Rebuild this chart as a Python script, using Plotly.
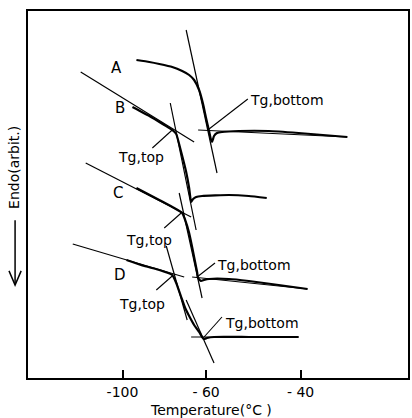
import plotly.graph_objects as go

# ---- data (chart units: x = temperature axis units, y = endo signal, arbitrary) ----
tick_vals = [95, 179, 274]
tick_text = ["-100", "- 60", "- 40"]

# DSC curves
A_x = [109, 122, 132, 145, 155, 162, 167, 172, 176, 179, 182, 184, 185, 187, 190, 195, 212, 242, 272, 321]
A_y = [318, 316, 314, 311, 307, 303, 298, 288, 274, 260, 247, 238, 236, 242, 245, 246, 247, 247, 245, 241]

B_x = [105, 122, 137, 145, 149, 154, 159, 162, 164, 166, 169, 175, 202, 222, 240]
B_y = [271, 262, 253, 248, 244, 226, 206, 190, 176, 179, 181, 182, 183, 182, 180]

C_x = [109, 132, 147, 155, 158, 162, 165, 168, 170, 171, 174, 177, 182, 202, 222, 252, 281]
C_y = [190, 178, 170, 165, 158, 145, 131, 116, 106, 100, 97, 98, 99, 99, 97, 93, 89]

D_x = [99, 117, 132, 145, 149, 154, 158, 162, 167, 172, 175, 177, 180, 187, 222, 272]
D_y = [118, 112, 108, 103, 95, 81, 70, 62, 53, 46, 41, 39, 40, 41, 41, 41]

# tangent construction lines (start, end)
A_steep_x, A_steep_y = [159, 190], [348, 205]
A_flat_x, A_flat_y = [171, 321], [248, 241]
B_base_x, B_base_y = [53, 167], [306, 236]
B_steep_x, B_steep_y = [143, 169], [275, 148]
C_base_x, C_base_y = [58, 164], [215, 161]
C_steep_x, C_steep_y = [152, 175], [185, 80]
C_flat_x, C_flat_y = [165, 281], [101, 89]
D_base_x, D_base_y = [45, 157], [134, 101]
D_steep1_x, D_steep1_y = [139, 160], [132, 58]
D_steep2_x, D_steep2_y = [159, 187], [78, 15]
D_flat_x, D_flat_y = [164, 272], [41, 41]

# leader lines for Tg labels
lead_B_top_x, lead_B_top_y = [125, 145], [230, 248]
lead_C_top_x, lead_C_top_y = [137, 154], [150, 165]
lead_D_top_x, lead_D_top_y = [129, 145], [88, 102]
lead_A_bot_x, lead_A_bot_y = [221, 182], [279, 249]
lead_C_bot_x, lead_C_bot_y = [188, 170], [115, 101]
lead_D_bot_x, lead_D_bot_y = [195, 177], [61, 41]

# curve letters
letters = ["A", "B", "C", "D"]
letter_x = [89, 92, 90, 92]
letter_y = [310, 270, 185, 103]

# Tg label texts
top_text = ["Tg,top", "Tg,top", "Tg,top"]
top_x = [114, 122, 115]
top_y = [221, 138, 74]
bot_text = ["Tg,bottom", "Tg,bottom", "Tg,bottom"]
bot_x = [221, 188, 196]
bot_y = [278, 113, 55]

FONT = "DejaVu Sans"

fig = go.Figure()


def add_line(x, y, w):
    fig.add_trace(go.Scatter(x=x, y=y, mode="lines",
                             line=dict(color="black", width=w),
                             hoverinfo="skip", showlegend=False))


for lx, ly in [(A_steep_x, A_steep_y), (A_flat_x, A_flat_y),
               (B_base_x, B_base_y), (B_steep_x, B_steep_y),
               (C_base_x, C_base_y), (C_steep_x, C_steep_y), (C_flat_x, C_flat_y),
               (D_base_x, D_base_y), (D_steep1_x, D_steep1_y), (D_steep2_x, D_steep2_y),
               (D_flat_x, D_flat_y)]:
    add_line(lx, ly, 1.2)

for lx, ly in [(lead_B_top_x, lead_B_top_y), (lead_C_top_x, lead_C_top_y),
               (lead_D_top_x, lead_D_top_y), (lead_A_bot_x, lead_A_bot_y),
               (lead_C_bot_x, lead_C_bot_y), (lead_D_bot_x, lead_D_bot_y)]:
    add_line(lx, ly, 1.1)

for cx, cy in [(A_x, A_y), (B_x, B_y), (C_x, C_y), (D_x, D_y)]:
    fig.add_trace(go.Scatter(x=cx, y=cy, mode="lines",
                             line=dict(color="black", width=2.2, shape="spline", smoothing=0.4),
                             hoverinfo="skip", showlegend=False))

annotations = []
for t, x, y in zip(letters, letter_x, letter_y):
    annotations.append(dict(x=x, y=y, text=t, showarrow=False,
                            font=dict(family=FONT, size=15, color="black")))
for t, x, y in zip(top_text, top_x, top_y):
    annotations.append(dict(x=x, y=y, text=t, showarrow=False,
                            font=dict(family=FONT, size=14, color="black")))
for t, x, y in zip(bot_text, bot_x, bot_y):
    annotations.append(dict(x=x, y=y, text=t, showarrow=False, xanchor="left",
                            font=dict(family=FONT, size=14, color="black")))

annotations.append(dict(xref="paper", yref="paper", x=0.482, y=-0.087,
                        xanchor="center", yanchor="middle",
                        text="Temperature(°C )", showarrow=False,
                        font=dict(family=FONT, size=14, color="black")))
annotations.append(dict(xref="paper", yref="paper", x=-0.037, y=0.575,
                        xanchor="center", yanchor="middle",
                        text="Endo(arbit.)", textangle=-90, showarrow=False,
                        font=dict(family=FONT, size=14, color="black")))

shapes = [
    dict(type="line", xref="paper", yref="paper", x0=-0.034, x1=-0.034, y0=0.43, y1=0.255,
         line=dict(color="black", width=1.5)),
    dict(type="path", xref="paper", yref="paper",
         path="M -0.050 0.292 L -0.034 0.253 L -0.018 0.292",
         line=dict(color="black", width=1.5)),
]

fig.update_layout(
    width=412, height=418,
    margin=dict(l=28, r=2, t=11, b=40),
    paper_bgcolor="white", plot_bgcolor="white",
    annotations=annotations, shapes=shapes,
    xaxis=dict(range=[0, 382], showgrid=False, zeroline=False, showline=True,
               linewidth=2, linecolor="black", mirror=True,
               ticks="inside", ticklen=8, tickwidth=1.5, tickcolor="black",
               tickvals=tick_vals, ticktext=tick_text,
               tickfont=dict(family=FONT, size=14, color="black")),
    yaxis=dict(range=[0, 367], showgrid=False, zeroline=False, showline=True,
               linewidth=2, linecolor="black", mirror=True,
               showticklabels=False, ticks=""),
)

fig.write_html("out.html")
